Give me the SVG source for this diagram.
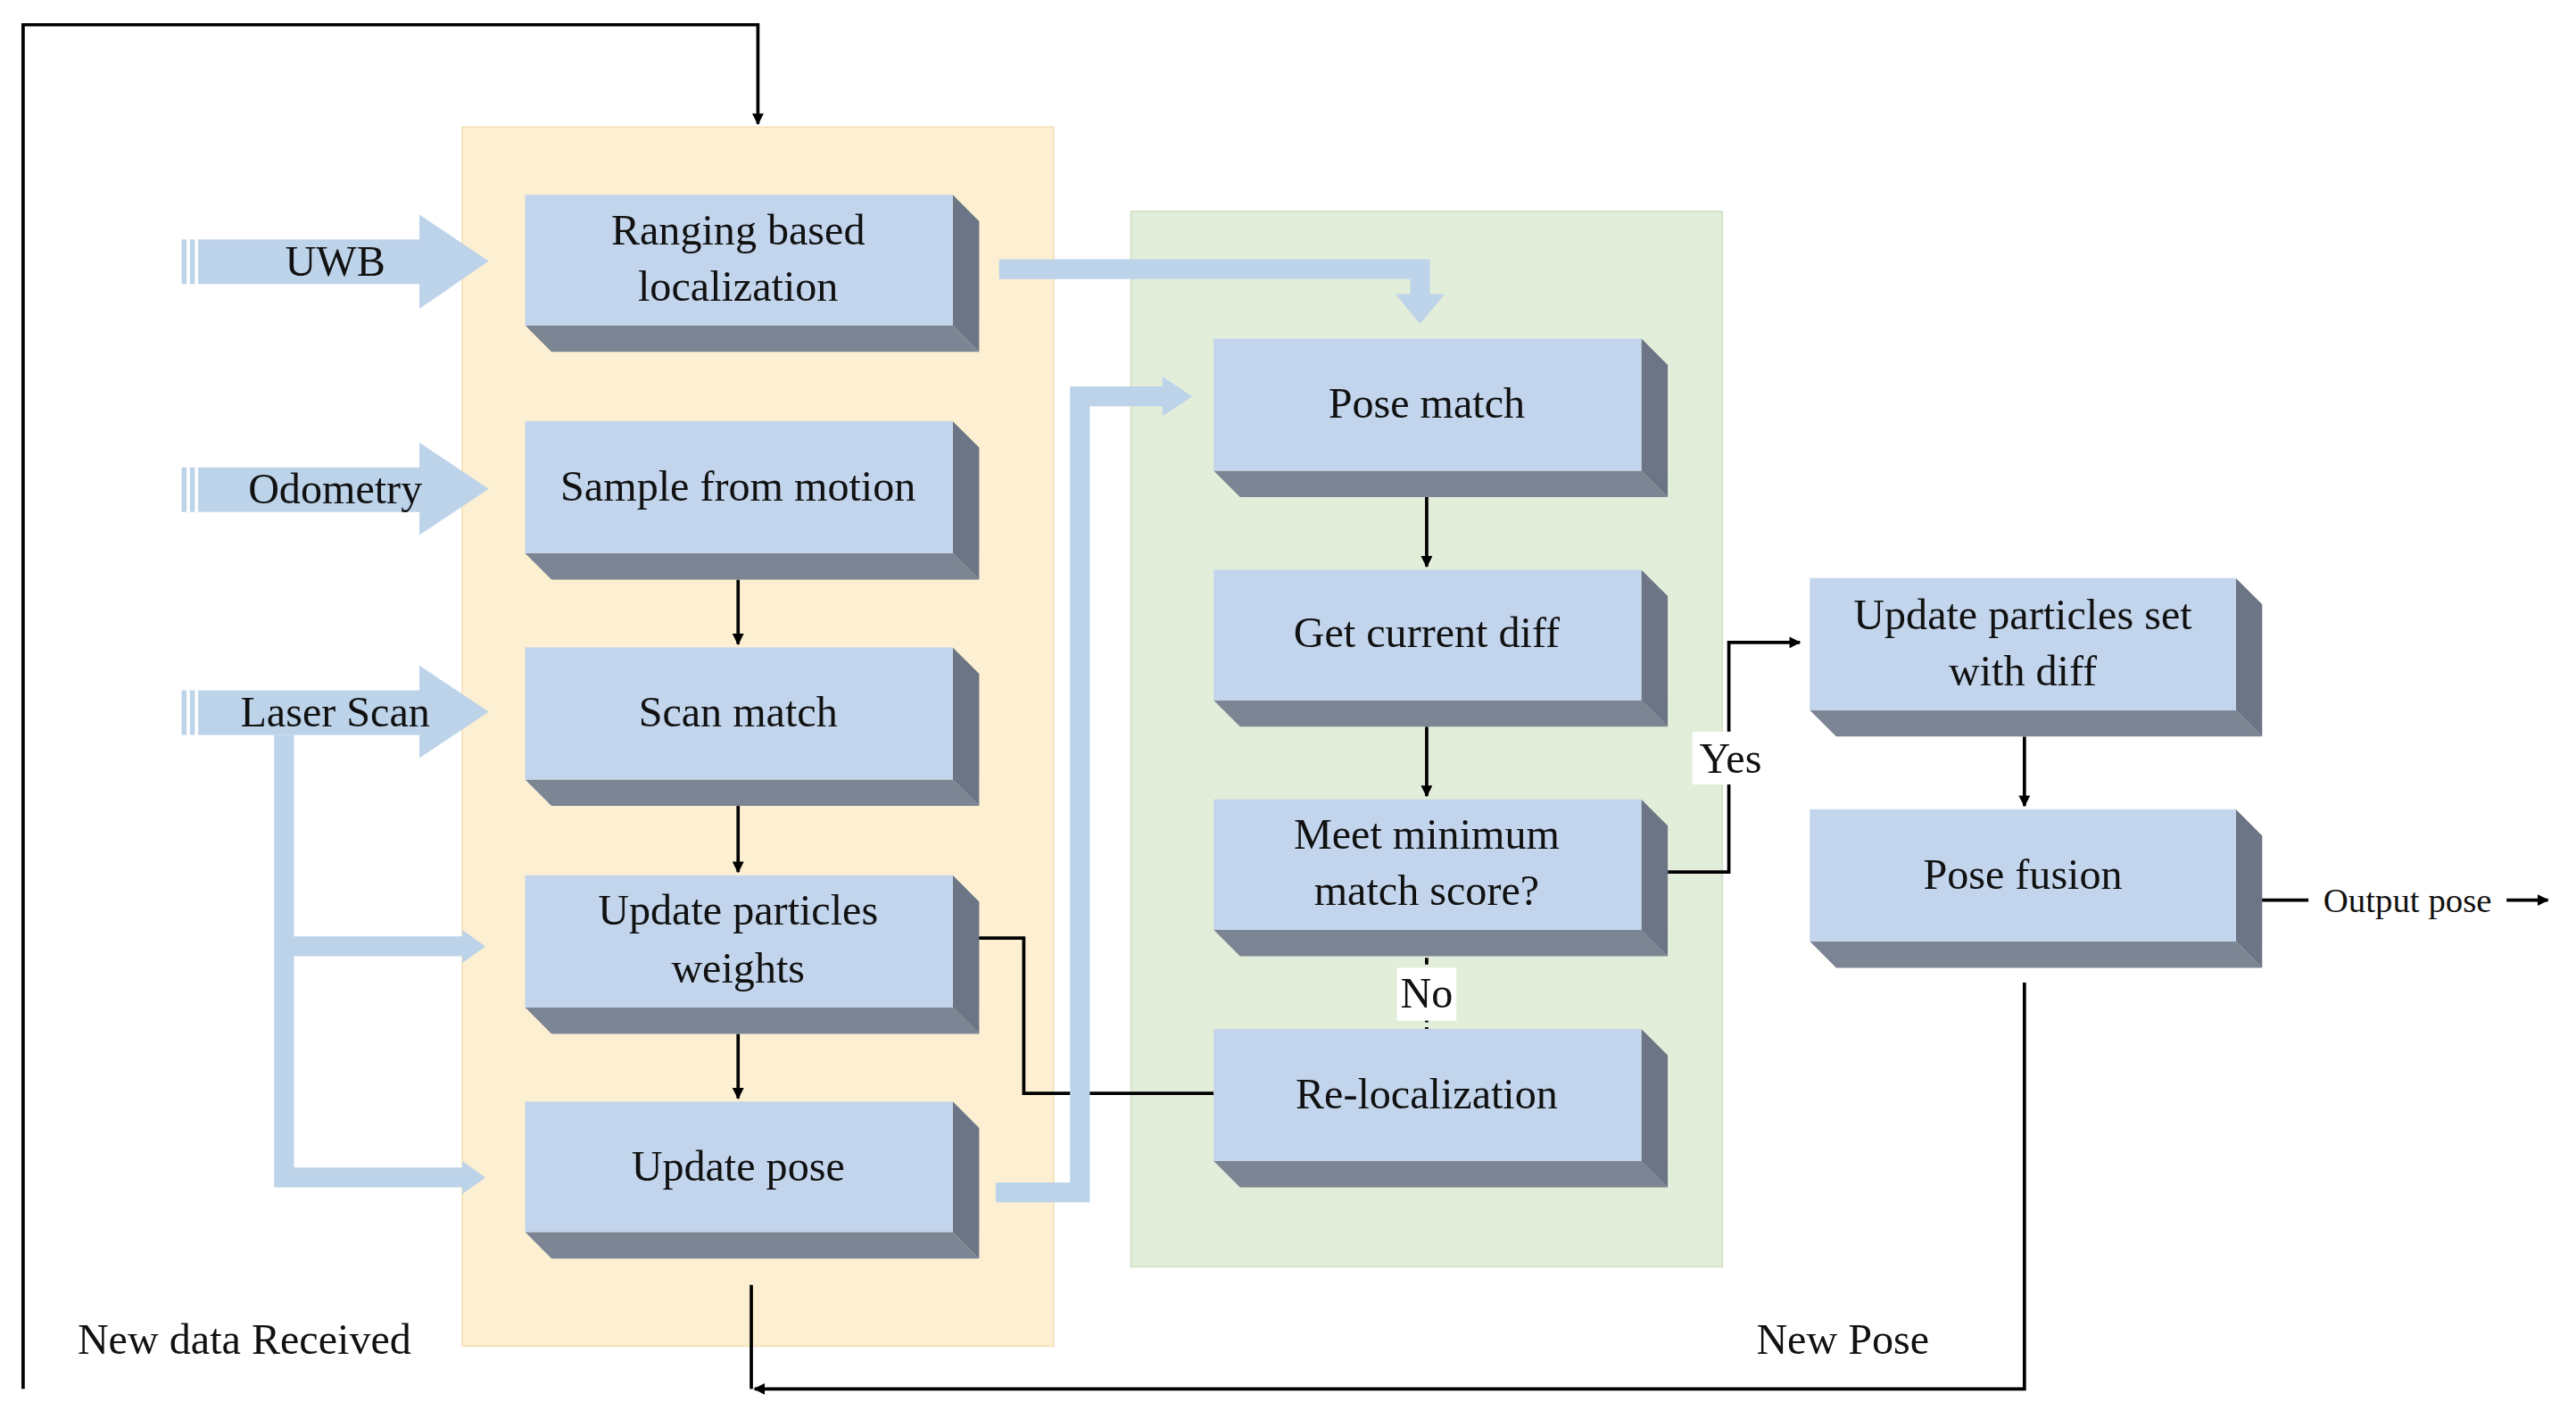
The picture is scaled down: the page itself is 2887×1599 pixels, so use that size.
<svg xmlns="http://www.w3.org/2000/svg" width="2887" height="1599" viewBox="0 0 2887 1599">
<defs>
<style>
.face{fill:#c2d5ec}.bot{fill:#7c8594}.side{fill:#6b7585}
.t{font-family:"Liberation Serif",serif;font-size:26px;fill:#111;text-anchor:middle}
.ln{fill:none;stroke:#000;stroke-width:2}
.fat{fill:none;stroke:#bdd3ea;stroke-width:12}
.bl{fill:#bdd3ea}
</style>
<marker id="ah" viewBox="0 0 10 10" refX="9" refY="5" markerWidth="7" markerHeight="7" orient="auto" markerUnits="userSpaceOnUse"><path d="M0,0L10,5L0,10z" fill="#000"/></marker>
</defs>
<rect width="2887" height="1599" fill="#fff"/>
<g transform="scale(1.8506)">
<rect x="280" y="77" width="358" height="738" fill="#fdf0d2" stroke="#f3e2b8"/>
<rect x="685" y="128" width="358" height="639" fill="#e3eeda" stroke="#d3e2c6"/>
<g id="connectors">
<path class="ln" d="M14,841V15H459V75" marker-end="url(#ah)"/>
<path class="ln" d="M455,778V841"/>
<path class="ln" d="M1226,595V841H457" marker-end="url(#ah)"/>
<path class="ln" d="M447,351V390" marker-end="url(#ah)"/>
<path class="ln" d="M447,488V528" marker-end="url(#ah)"/>
<path class="ln" d="M447,626V665" marker-end="url(#ah)"/>
<path class="ln" d="M864,301V343" marker-end="url(#ah)"/>
<path class="ln" d="M864,440V482" marker-end="url(#ah)"/>
<path class="ln" d="M864,580V623" stroke-dasharray="4,3"/>
<path class="ln" d="M1010,528H1047V389H1090" marker-end="url(#ah)"/>
<path class="ln" d="M735,662H620V568H580" marker-end="url(#ah)"/>
<path class="ln" d="M1226,446V488" marker-end="url(#ah)"/>
<path class="ln" d="M1369,545H1398"/>
<path class="ln" d="M1518,545H1543" marker-end="url(#ah)"/>
<rect x="1025" y="443" width="46" height="32" fill="#fff"/>
<text class="t" x="1048" y="468">Yes</text>
<rect x="846" y="586" width="36" height="32" fill="#fff"/>
<text class="t" x="864" y="610">No</text>
<text class="t" x="1458" y="552" style="font-size:21px">Output pose</text>
<!-- fat arrows -->
<g>
<rect x="110" y="145" width="3" height="27" class="bl"/><rect x="115" y="145" width="3" height="27" class="bl"/><rect x="120" y="145" width="136" height="27" class="bl"/><path class="bl" d="M254,130L296,158L254,187z"/>
<rect x="110" y="283" width="3" height="27" class="bl"/><rect x="115" y="283" width="3" height="27" class="bl"/><rect x="120" y="283" width="136" height="27" class="bl"/><path class="bl" d="M254,268L296,296L254,324z"/>
<rect x="110" y="418" width="3" height="27" class="bl"/><rect x="115" y="418" width="3" height="27" class="bl"/><rect x="120" y="418" width="136" height="27" class="bl"/><path class="bl" d="M254,403L296,431L254,459z"/>
<path class="fat" d="M172,445V713H282"/>
<path class="fat" d="M172,573H282"/>
<path class="bl" d="M280,563L294,573L280,583z"/>
<path class="bl" d="M280,703L294,713L280,723z"/>
<path class="fat" d="M605,163H860V180"/>
<path class="bl" d="M845,178L860,196L875,178z"/>
<path class="fat" d="M603,722H654V240H706"/>
<path class="bl" d="M704,228L722,240L704,252z"/>
</g>
<text class="t" x="203" y="167">UWB</text>
<text class="t" x="203" y="305">Odometry</text>
<text class="t" x="203" y="440">Laser Scan</text>
<text class="t" x="148" y="820" style="text-anchor:middle">New data Received</text>
<text class="t" x="1116" y="820">New Pose</text>
</g>
<g id="n1"><path class="bot" d="M318,197H577L593,213H334z"/><path class="side" d="M577,118L593,134V213L577,197z"/><rect class="face" x="318" y="118" width="259" height="79"/><text class="t" x="447" y="148">Ranging based</text><text class="t" x="447" y="182">localization</text></g>
<g id="n2"><path class="bot" d="M318,335H577L593,351H334z"/><path class="side" d="M577,255L593,271V351L577,335z"/><rect class="face" x="318" y="255" width="259" height="80"/><text class="t" x="447" y="303">Sample from motion</text></g>
<g id="n3"><path class="bot" d="M318,472H577L593,488H334z"/><path class="side" d="M577,392L593,408V488L577,472z"/><rect class="face" x="318" y="392" width="259" height="80"/><text class="t" x="447" y="440">Scan match</text></g>
<g id="n4"><path class="bot" d="M318,610H577L593,626H334z"/><path class="side" d="M577,530L593,546V626L577,610z"/><rect class="face" x="318" y="530" width="259" height="80"/><text class="t" x="447" y="560">Update particles</text><text class="t" x="447" y="595">weights</text></g>
<g id="n5"><path class="bot" d="M318,746H577L593,762H334z"/><path class="side" d="M577,667L593,683V762L577,746z"/><rect class="face" x="318" y="667" width="259" height="79"/><text class="t" x="447" y="715">Update pose</text></g>
<g id="n6"><path class="bot" d="M735,285H994L1010,301H751z"/><path class="side" d="M994,205L1010,221V301L994,285z"/><rect class="face" x="735" y="205" width="259" height="80"/><text class="t" x="864" y="253">Pose match</text></g>
<g id="n7"><path class="bot" d="M735,424H994L1010,440H751z"/><path class="side" d="M994,345L1010,361V440L994,424z"/><rect class="face" x="735" y="345" width="259" height="79"/><text class="t" x="864" y="392">Get current diff</text></g>
<g id="n8"><path class="bot" d="M735,563H994L1010,579H751z"/><path class="side" d="M994,484L1010,500V579L994,563z"/><rect class="face" x="735" y="484" width="259" height="79"/><text class="t" x="864" y="514">Meet minimum</text><text class="t" x="864" y="548">match score?</text></g>
<g id="n9"><path class="bot" d="M735,703H994L1010,719H751z"/><path class="side" d="M994,623L1010,639V719L994,703z"/><rect class="face" x="735" y="623" width="259" height="80"/><text class="t" x="864" y="671">Re-localization</text></g>
<g id="n10"><path class="bot" d="M1096,430H1354L1370,446H1112z"/><path class="side" d="M1354,350L1370,366V446L1354,430z"/><rect class="face" x="1096" y="350" width="258" height="80"/><text class="t" x="1225" y="381">Update particles set</text><text class="t" x="1225" y="415">with diff</text></g>
<g id="n11"><path class="bot" d="M1096,570H1354L1370,586H1112z"/><path class="side" d="M1354,490L1370,506V586L1354,570z"/><rect class="face" x="1096" y="490" width="258" height="80"/><text class="t" x="1225" y="538">Pose fusion</text></g>
</g>
</svg>
